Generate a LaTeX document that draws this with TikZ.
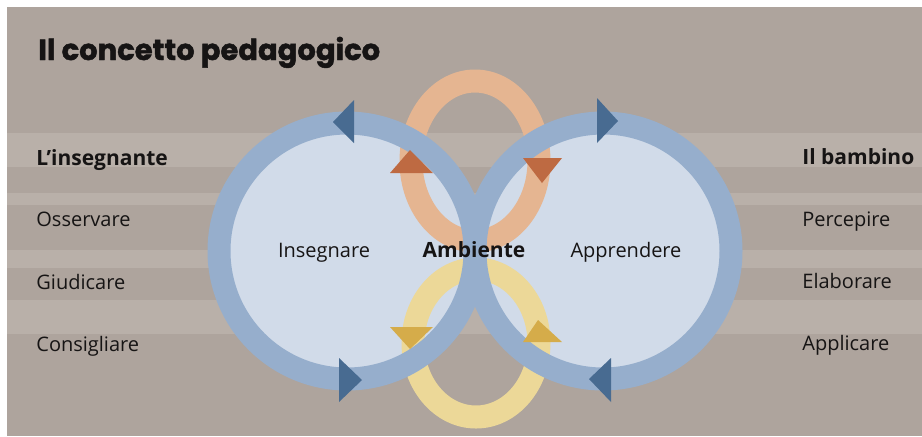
\documentclass[tikz,border=0pt]{standalone}
\usepackage{fontspec}
\setmainfont{Open Sans}
\newfontfamily\titlefont{Poppins}[BoldFeatures={FakeBold=1.6}]

\definecolor{paper}{RGB}{174,164,157}
\definecolor{paperlight}{RGB}{199,191,185}
\definecolor{discblue}{RGB}{209,219,233}
\definecolor{ringblue}{RGB}{150,174,204}
\definecolor{tipblue}{RGB}{72,107,145}
\definecolor{ringorange}{RGB}{229,181,145}
\definecolor{tiporange}{RGB}{190,106,66}
\definecolor{ringyellow}{RGB}{236,216,152}
\definecolor{tipyellow}{RGB}{213,172,74}
\definecolor{ink}{RGB}{22,20,20}

\tikzstyle{band} = [fill=paperlight, opacity=0.45]
\tikzstyle{disc} = [fill=discblue]
\tikzstyle{bluering} = [draw=ringblue, line width=11.5pt]
\tikzstyle{orangering} = [draw=ringorange, line width=11.5pt]
\tikzstyle{yellowring} = [draw=ringyellow, line width=11.5pt]
\tikzstyle{rowlabel} = [anchor=base west, inner sep=0pt, text=ink, font=\fontsize{10}{12}\selectfont]
\tikzstyle{headlabel} = [rowlabel, font=\fontsize{10.5}{12}\selectfont\bfseries]
\tikzstyle{looplabel} = [anchor=base, inner sep=0pt, text=ink, font=\fontsize{10}{12}\selectfont]

\begin{document}
\begin{tikzpicture}[x=0.5pt,y=-0.5pt]
	\useasboundingbox (0,0) rectangle (922,436);
	\fill[paper] (7,7) rectangle (922,436);
	\foreach \ya/\yb in {133/167,193/205,250/268,300/334}
		\fill[band] (7,\ya) rectangle (922,\yb);

	\fill[disc] (347,251) circle (128);
	\fill[disc] (603,251) circle (128);

	\draw[orangering] (475,161) ellipse (64 and 80);
	\draw[yellowring] (476,343) ellipse (63 and 74);

	\draw[bluering] (347,251) circle (128);
	\draw[bluering] (603,251) circle (128);

	\fill[tipblue] (354,100) -- (333,122) -- (354,143) -- cycle;
	\fill[tipblue] (339,358) -- (362,380) -- (339,402) -- cycle;
	\fill[tipblue] (597,98) -- (618,121) -- (597,143) -- cycle;
	\fill[tipblue] (611,358) -- (589,379) -- (611,402) -- cycle;

	\fill[tiporange] (390,173) -- (410,150) -- (433,173) -- cycle;
	\fill[tiporange] (523,158) -- (542,183) -- (562,158) -- cycle;
	\fill[tipyellow] (390,327) -- (410,349) -- (433,327) -- cycle;
	\fill[tipyellow] (523,342) -- (538,320) -- (562,342) -- cycle;

	\node[anchor=base west, inner sep=0pt, text=ink, font=\titlefont\fontsize{14.5}{16}\selectfont\bfseries]
		(title) at (38,60) {Il concetto pedagogico};

	\node[headlabel] (teacher) at (36,165) {L’insegnante};
	\node[rowlabel] (observe) at (36,226) {Osservare};
	\node[rowlabel] (judge) at (36,289) {Giudicare};
	\node[rowlabel] (advise) at (36,351) {Consigliare};

	\node[headlabel] (child) at (802,164) {Il bambino};
	\node[rowlabel] (perceive) at (802,226) {Percepire};
	\node[rowlabel] (elaborate) at (802,288) {Elaborare};
	\node[rowlabel] (apply) at (802,350) {Applicare};

	\node[looplabel] (teach) at (324,257) {Insegnare};
	\node[looplabel, font=\fontsize{10.5}{12}\selectfont\bfseries] (env) at (474,257) {Ambiente};
	\node[looplabel] (learn) at (626,257) {Apprendere};
\end{tikzpicture}
\end{document}
